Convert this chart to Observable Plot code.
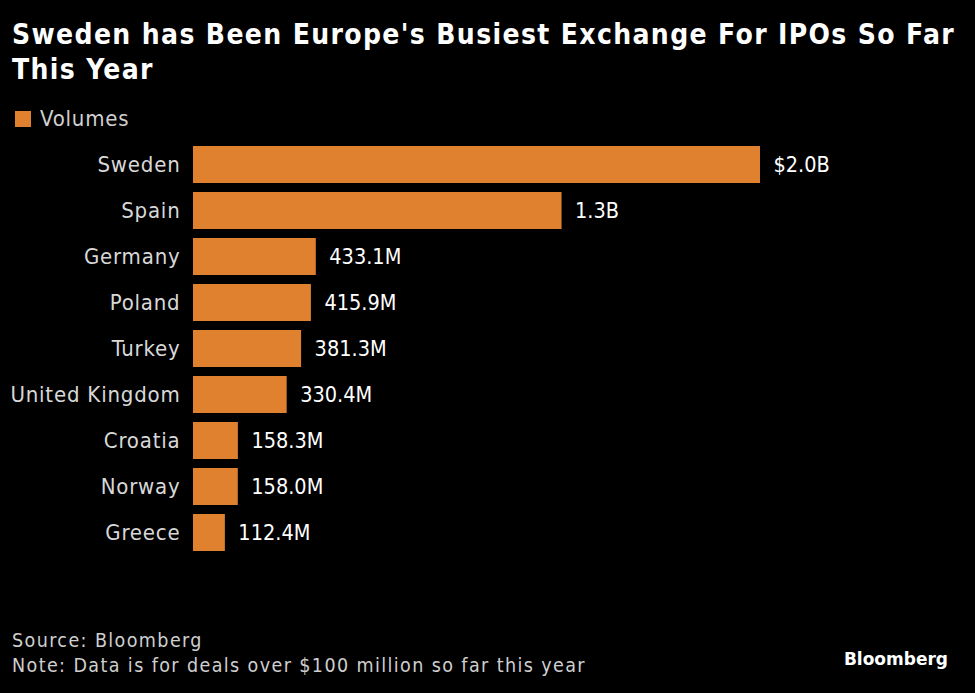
<!DOCTYPE html>
<html>
<head>
<meta charset="utf-8">
<script src="https://cdn.jsdelivr.net/npm/d3@7"></script>
<script src="https://cdn.jsdelivr.net/npm/@observablehq/plot@0.6"></script>
<style>
  html, body { margin: 0; padding: 0; background: #000; }
  #wrap { position: relative; width: 975px; height: 693px; background: #000; overflow: hidden;
          font-family: "DejaVu Sans Condensed", "DejaVu Sans", sans-serif; }
  #title { position: absolute; left: 12px; top: 17px; width: 960px; color: #fff;
           font-weight: bold; font-size: 28px; line-height: 35px; letter-spacing: 1.35px; }
  #legend { position: absolute; left: 15px; top: 106px; color: #d0d0d0; font-size: 22px;
            letter-spacing: 0.8px; display: flex; align-items: center; }
  #legend .sw { width: 16px; height: 16px; background: #e0812f; margin-right: 9px; }
  #chart { position: absolute; left: 0; top: 0; }
  #chart svg g[aria-label="y-axis tick label"] text { letter-spacing: 0.8px; }
  #notes { position: absolute; left: 12px; top: 628px; color: #cfcfcf; font-size: 19.5px;
           line-height: 25px; letter-spacing: 1.4px; }
  #logo { position: absolute; right: 27px; top: 649px; color: #fff; font-weight: bold; font-size: 17px;
          font-family: "DejaVu Sans", sans-serif; }
</style>
</head>
<body>
<div id="wrap">
  <div id="title">Sweden has Been Europe's Busiest Exchange For IPOs So Far This Year</div>
  <div id="legend"><span class="sw"></span><span>Volumes</span></div>
  <div id="chart"></div>
  <div id="notes">Source: Bloomberg<br>Note: Data is for deals over $100 million so far this year</div>
  <div id="logo">Bloomberg</div>
</div>
<script>
// IPO volumes by exchange country, in millions of USD
const countries = ["Sweden", "Spain", "Germany", "Poland", "Turkey", "United Kingdom", "Croatia", "Norway", "Greece"];
const volumes = [2000, 1300, 433.1, 415.9, 381.3, 330.4, 158.3, 158.0, 112.4];
const valueLabels = ["$2.0B", "1.3B", "433.1M", "415.9M", "381.3M", "330.4M", "158.3M", "158.0M", "112.4M"];

const rows = countries.map((c, i) => ({country: c, volume: volumes[i], label: valueLabels[i]}));
const barColor = "#e0812f";

const chart = Plot.plot({
  width: 975,
  height: 693,
  marginTop: 145,
  marginBottom: 141,
  marginLeft: 193,
  marginRight: 215,
  style: {background: "transparent", color: "#d8d8d8", fontFamily: "'DejaVu Sans Condensed', 'DejaVu Sans', sans-serif"},
  x: {domain: [0, 2000], axis: null},
  y: {domain: countries, paddingInner: 0.2, paddingOuter: 0, label: null},
  marks: [
    Plot.barX(rows, {x: "volume", y: "country", fill: barColor}),
    Plot.text(rows, {x: "volume", y: "country", text: "label", textAnchor: "start", dx: 13,
                     fill: "#ffffff", fontSize: 21.5}),
    Plot.axisY({tickSize: 0, tickPadding: 13, fontSize: 22, fill: "#d8d8d8", label: null})
  ]
});
document.getElementById("chart").appendChild(chart);
</script>
</body>
</html>
